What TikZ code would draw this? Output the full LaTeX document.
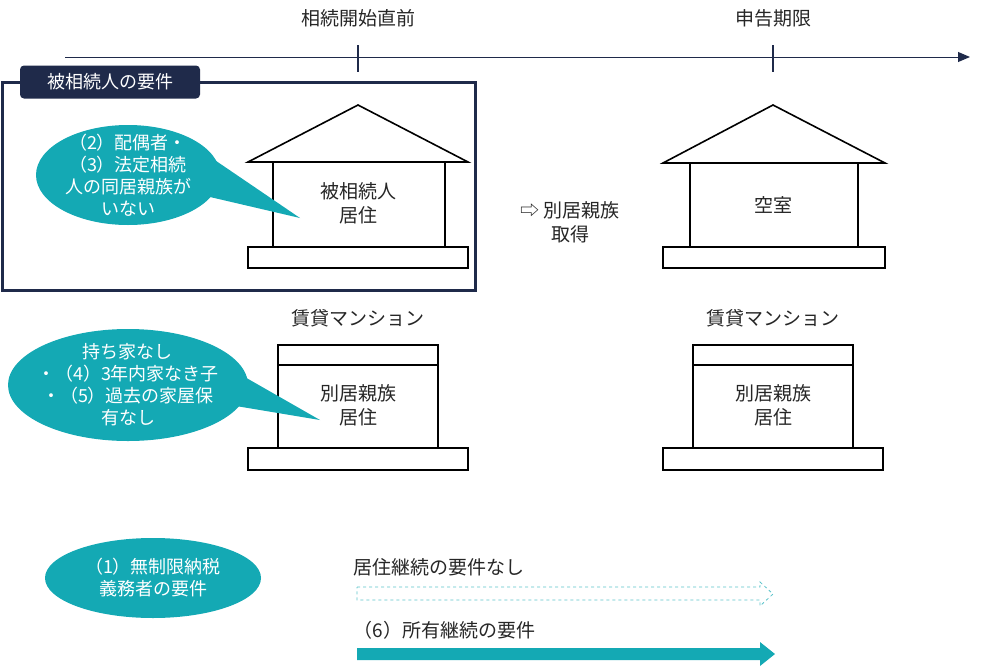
\documentclass[tikz,border=0pt]{standalone}
\usepackage{fontspec}
\setmainfont{Noto Sans CJK JP}
\usetikzlibrary{shapes.geometric,arrows.meta}
\definecolor{navy}{HTML}{1F2A4A}
\definecolor{teal}{HTML}{14A9B4}
\tikzset{
  txt/.style={font=\fontsize{19}{24}\selectfont,align=center,text=black!85},
  wtxt/.style={font=\fontsize{18}{22}\selectfont,align=center,text=white},
  bld/.style={draw=black,line width=1.6pt,fill=white}
}
\begin{document}
\begin{tikzpicture}[x=1pt,y=-1pt]
    \useasboundingbox (0,0) rectangle (983,667);
    %% Timeline
    \draw[navy,line width=1pt,-{Triangle[length=12pt,width=10pt]}] (65,57) -- (970,57);
    \draw[navy,line width=1.2pt] (358,45) -- (358,72);
    \draw[navy,line width=1.2pt] (773,45) -- (773,72);
    \node[txt] (t1) at (358,18) {相続開始直前};
    \node[txt] (t2) at (773,18) {申告期限};
    %% Requirement box
    \draw[navy,line width=3pt] (2,82) rectangle (475,290);
    \node[wtxt,fill=navy,rounded corners=4pt,minimum width=180pt,minimum height=33pt] (req) at (110,82) {被相続人の要件};
    %% House 1
    \draw[bld] (248,162) -- (358,105) -- (468,162) -- cycle;
    \draw[bld] (273,162) rectangle (445,247);
    \draw[bld] (248,247) rectangle (468,268);
    \node[txt] (h1) at (358,203) {被相続人\\居住};
    %% Callout 1
    \fill[teal] (180,190) -- (300,218) -- (200,150) -- cycle;
    \fill[teal] (128,175) ellipse (92 and 50);
    \node[wtxt] (c1) at (128,175) {（2）配偶者・\\（3）法定相続\\人の同居親族が\\いない};
    %% Transfer
    \node[txt] (tr) at (570,222) {⇨ 別居親族\\取得};
    %% House 2
    \draw[bld] (663,163) -- (773,105) -- (885,163) -- cycle;
    \draw[bld] (690,163) rectangle (858,247);
    \draw[bld] (663,247) rectangle (885,268);
    \node[txt] (h2) at (773,205) {空室};
    %% Mansions
    \foreach \dx/\nm in {0/m1,415/m2}{
      \node[txt] (\nm l) at (358+\dx,318) {賃貸マンション};
      \draw[bld] (278+\dx,345) rectangle (438+\dx,365);
      \draw[bld] (278+\dx,365) rectangle (438+\dx,448);
      \draw[bld] (248+\dx,448) rectangle (468+\dx,470);
      \node[txt] (\nm) at (358+\dx,405) {別居親族\\居住};
    }
    %% Callout 2
    \fill[teal] (200,400) -- (320,420) -- (215,360) -- cycle;
    \fill[teal] (128,385) ellipse (120 and 56);
    \node[wtxt] (c2) at (128,385) {持ち家なし\\・（4）3年内家なき子\\・（5）過去の家屋保\\有なし};
    %% Tax duty
    \fill[teal] (153,578) ellipse (108 and 40);
    \node[wtxt] (c3) at (153,578) {（1）無制限納税\\義務者の要件};
    %% Continuation arrows
    \node[txt,anchor=west] (a1) at (350,567) {居住継続の要件なし};
    \draw[teal!70,dashed,line width=0.8pt] (357,587) -- (760,587) -- (760,582) -- (773,594) -- (760,606) -- (760,600) -- (357,600) -- cycle;
    \node[txt,anchor=west] (a2) at (350,630) {（6）所有継続の要件};
    \fill[teal] (357,648) -- (760,648) -- (760,642) -- (775,654) -- (760,666) -- (760,660) -- (357,660) -- cycle;
\end{tikzpicture}
\end{document}
